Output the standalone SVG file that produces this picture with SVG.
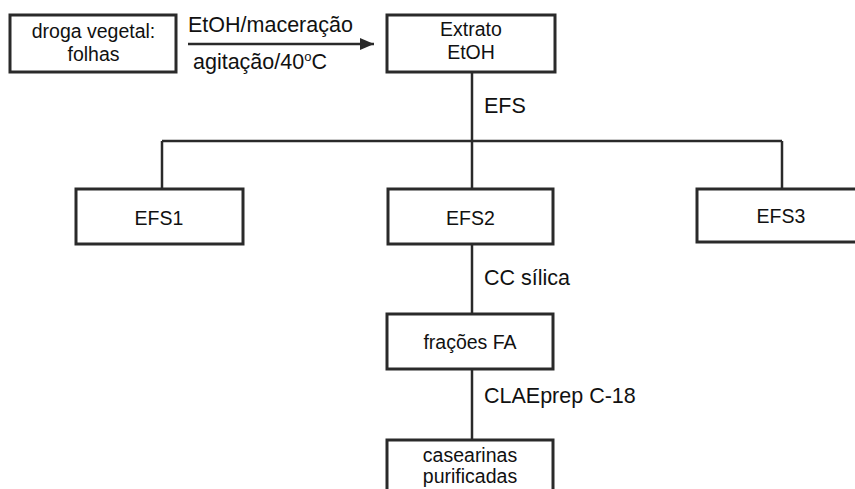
<svg xmlns="http://www.w3.org/2000/svg" width="855" height="489" viewBox="0 0 855 489">
<style>
.box{fill:#fff;stroke:#2a2a2a;stroke-width:3}
.ln{stroke:#2a2a2a;stroke-width:2.5;fill:none}
.t{font-family:"Liberation Sans",Arial,sans-serif;font-size:19.5px;fill:#111;text-anchor:middle}
.lb{font-family:"Liberation Sans",Arial,sans-serif;font-size:21.5px;fill:#111}
</style>
<defs>
<marker id="ah" markerWidth="14" markerHeight="12" refX="14" refY="6" orient="auto" markerUnits="userSpaceOnUse">
<path d="M0,0 L14,6 L0,12 Z" fill="#2a2a2a"/>
</marker>
</defs>
<rect width="855" height="489" fill="#fff"/>
<g id="connectors">
<line class="ln" x1="188" y1="44" x2="374" y2="44" marker-end="url(#ah)"/>
<line class="ln" x1="472" y1="72" x2="472" y2="189"/>
<line class="ln" x1="162" y1="141" x2="782" y2="141"/>
<line class="ln" x1="162" y1="141" x2="162" y2="189"/>
<line class="ln" x1="782" y1="141" x2="782" y2="189"/>
<line class="ln" x1="472" y1="244" x2="472" y2="314"/>
<line class="ln" x1="472" y1="369" x2="472" y2="440"/>
<text class="lb" x="188" y="32">EtOH/maceração</text>
<text class="lb" x="193" y="69">agitação/40<tspan dy="-8" font-size="13">o</tspan><tspan dy="8">C</tspan></text>
<text class="lb" x="484" y="113">EFS</text>
<text class="lb" x="484" y="285">CC sílica</text>
<text class="lb" x="484" y="403">CLAEprep C-18</text>
</g>
<g id="droga">
<rect class="box" x="10" y="15" width="166" height="57"/>
<text class="t" x="93.5" y="38">droga vegetal:</text>
<text class="t" x="93.5" y="61">folhas</text>
</g>
<g id="extrato">
<rect class="box" x="387" y="15" width="168" height="57"/>
<text class="t" x="471" y="36">Extrato</text>
<text class="t" x="471" y="59">EtOH</text>
</g>
<g id="efs1">
<rect class="box" x="76" y="189" width="167" height="55"/>
<text class="t" x="159" y="225">EFS1</text>
</g>
<g id="efs2">
<rect class="box" x="388" y="189" width="165" height="55"/>
<text class="t" x="470.5" y="225">EFS2</text>
</g>
<g id="efs3">
<rect class="box" x="697" y="189" width="175" height="53"/>
<text class="t" x="781" y="223">EFS3</text>
</g>
<g id="fracoes">
<rect class="box" x="387" y="314" width="166" height="55"/>
<text class="t" x="470" y="349">frações FA</text>
</g>
<g id="casearinas">
<rect class="box" x="387" y="440" width="166" height="70"/>
<text class="t" x="470" y="462">casearinas</text>
<text class="t" x="470" y="483">purificadas</text>
</g>
</svg>
